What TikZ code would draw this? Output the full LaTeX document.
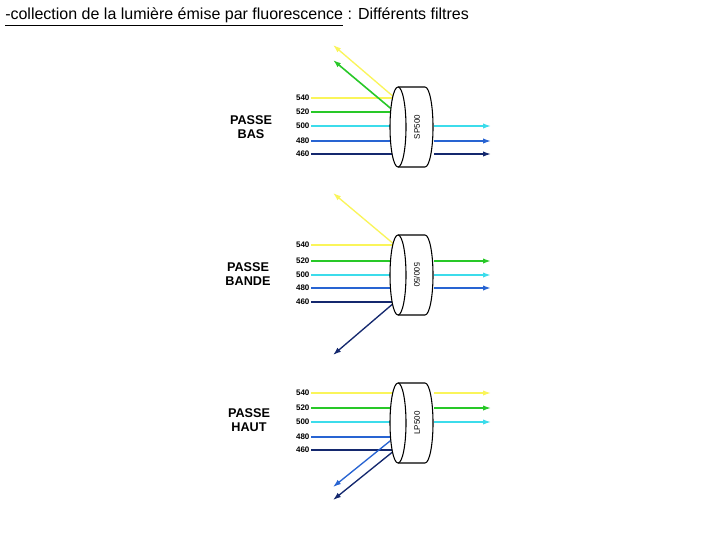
\documentclass[tikz,border=0pt]{standalone}
\usepackage{fontspec}
\setmainfont{Liberation Sans}
\usetikzlibrary{arrows.meta}
\definecolor{cy}{RGB}{250,245,90}
\definecolor{cg}{RGB}{40,200,40}
\definecolor{cc}{RGB}{60,220,235}
\definecolor{cb}{RGB}{40,100,210}
\definecolor{cn}{RGB}{20,40,110}
\tikzset{x=0.75pt,y=-0.75pt,
 wl/.style={font=\bfseries\fontsize{6}{6}\selectfont,anchor=east,inner sep=1pt},
 ray/.style={line width=1pt},
 arr/.style={line width=1pt,-{Latex[length=6pt,width=4pt]}},
 ttl/.style={font=\bfseries\fontsize{9.5}{10}\selectfont,align=center},
 flab/.style={font=\fontsize{6}{6}\selectfont,inner sep=0pt}}
\newcommand{\filt}[3]{% center y, label, rotation
 \fill[white] (398,#1-40) -- (425,#1-40) arc[start angle=-90,end angle=90,x radius=8,y radius=40] -- (398,#1+40) -- cycle;
 \draw[line width=0.8pt] (398,#1-40) -- (425,#1-40) arc[start angle=-90,end angle=90,x radius=8,y radius=40] -- (398,#1+40);
 \draw[line width=0.8pt,fill=white] (398,#1) ellipse[x radius=8,y radius=40];
 \node[flab,rotate=#3] at (417,#1) {#2};}
\begin{document}
\begin{tikzpicture}
\fill[white] (0,0) rectangle (720,540);
\node[anchor=west,font=\fontsize{12}{14}\selectfont,inner sep=0pt] (title) at (5,17) {\underline{-collection de la lumière émise par fluorescence} : Différents filtres};
% panel 1
\node[ttl] (t1) at (251,127) {PASSE\\BAS};
\foreach \n/\y/\c in {540/98/cy,520/112/cg,500/126/cc,480/141/cb,460/154/cn}{
 \node[wl] (a\n) at (311,\y) {\n};
 \coordinate (af\n) at (395,\y);
 \draw[ray,\c] (a\n) -- (af\n);}
\coordinate (ar540) at (333,45); \coordinate (ar520) at (333,60);
\draw[arr,cy] (af540) -- (ar540);
\draw[arr,cg,line width=1.2pt] (af520) -- (ar520);
\filt{127}{SP500}{90}
\foreach \n/\y/\c in {500/126/cc,480/141/cb,460/154/cn}{
 \coordinate (ao\n) at (434,\y); \coordinate (ae\n) at (491,\y);
 \draw[arr,\c] (ao\n) -- (ae\n);}
% panel 2
\node[ttl] (t2) at (248,274) {PASSE\\BANDE};
\foreach \n/\y/\c in {540/245/cy,520/261/cg,500/275/cc,480/288/cb,460/302/cn}{
 \node[wl] (b\n) at (311,\y) {\n};
 \coordinate (bf\n) at (395,\y);
 \draw[ray,\c] (b\n) -- (bf\n);}
\coordinate (br540) at (333,193); \coordinate (br460) at (333,355);
\draw[arr,cy] (bf540) -- (br540);
\draw[arr,cn] (bf460) -- (br460);
\filt{275}{500/50}{-90}
\foreach \n/\y/\c in {520/261/cg,500/275/cc,480/288/cb}{
 \coordinate (bo\n) at (434,\y); \coordinate (be\n) at (491,\y);
 \draw[arr,\c,line width=1.2pt] (bo\n) -- (be\n);}
% panel 3
\node[ttl] (t3) at (249,420) {PASSE\\HAUT};
\foreach \n/\y/\c in {540/393/cy,520/408/cg,500/422/cc,480/437/cb,460/450/cn}{
 \node[wl] (c\n) at (311,\y) {\n};
 \coordinate (cf\n) at (395,\y);
 \draw[ray,\c] (c\n) -- (cf\n);}
\coordinate (cr480) at (333,487); \coordinate (cr460) at (333,500);
\draw[arr,cb] (cf480) -- (cr480);
\draw[arr,cn] (cf460) -- (cr460);
\filt{423}{LP500}{90}
\foreach \n/\y/\c in {540/393/cy,520/408/cg,500/422/cc}{
 \coordinate (co\n) at (434,\y); \coordinate (ce\n) at (491,\y);
 \draw[arr,\c] (co\n) -- (ce\n);}
\end{tikzpicture}
\end{document}
